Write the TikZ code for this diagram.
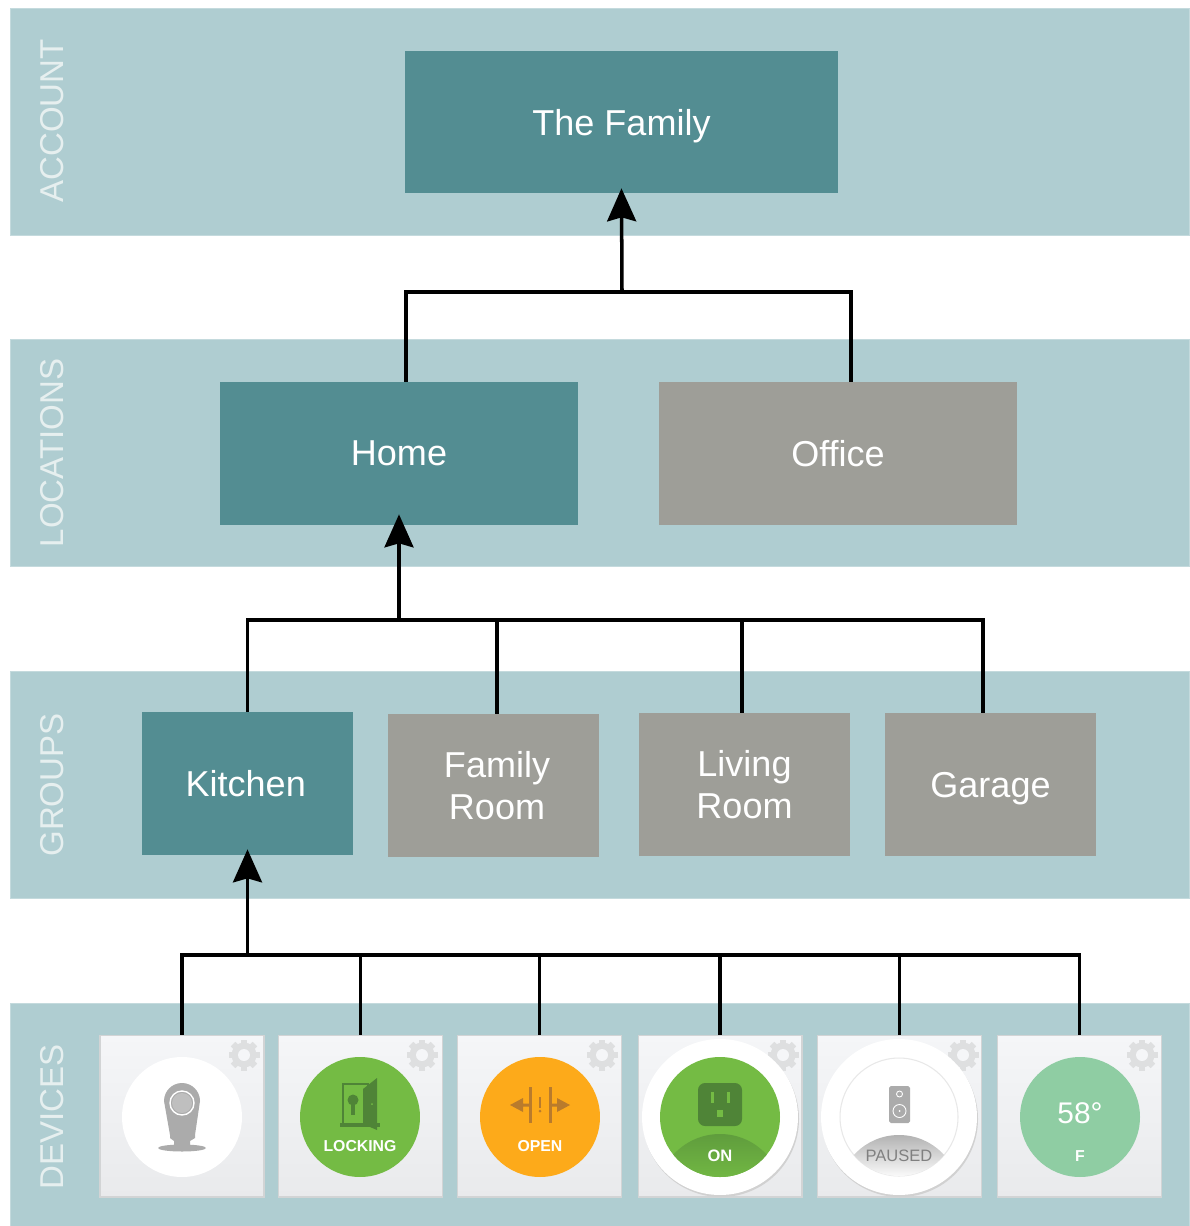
\documentclass[tikz,border=0pt]{standalone}
\usepackage{fontspec}
\setmainfont{Liberation Sans}
\usetikzlibrary{arrows.meta}

\definecolor{bandblue}{HTML}{AFCDD1}
\definecolor{bandedge}{HTML}{C4DADD}
\definecolor{tealbox}{HTML}{538D92}
\definecolor{greybox}{HTML}{9E9E98}
\definecolor{labelgrey}{HTML}{E6EFEF}
\definecolor{gearcol}{HTML}{DEDFE0}
\definecolor{lockgreen}{HTML}{74BB44}
\definecolor{darkgreen}{HTML}{4F8437}
\definecolor{openorange}{HTML}{FDAA1A}
\definecolor{darkorange}{HTML}{B97B2C}
\definecolor{tempgreen}{HTML}{8FCDA3}
\definecolor{icongrey}{HTML}{ABABAB}
\definecolor{cardtop}{HTML}{F5F6F8}
\definecolor{cardbottom}{HTML}{E9EAEC}
\definecolor{cardedge}{HTML}{D2D4D5}

\tikzset{
  band/.style={rectangle, fill=bandblue, draw=bandedge, line width=0.4pt, minimum width=23.58cm, inner sep=0pt},
  bandlabel/.style={text=labelgrey, rotate=90, font=\fontsize{18.8}{20}\selectfont, inner sep=0pt},
  box/.style={rectangle, text=white, inner sep=0pt, align=center, text depth=0pt, font=\fontsize{20.5}{23.5}\selectfont},
  tealnode/.style={box, fill=tealbox},
  greynode/.style={box, fill=greybox},
  card/.style={rectangle, top color=cardtop, bottom color=cardbottom, draw=cardedge, line width=0.6pt, minimum width=3.28cm, minimum height=3.24cm, inner sep=0pt},
  dial/.style={circle, minimum size=2.4cm, inner sep=0pt},
  ring/.style={circle, fill=white, minimum size=3.12cm, inner sep=0pt},
  devtext/.style={text=white, inner sep=0pt, font=\fontsize{9}{10}\selectfont\bfseries},
  wire/.style={line width=2pt, black},
  uparrow/.style={wire, -{Stealth[length=0.66cm, width=0.58cm, inset=0.08cm]}},
  gear/.pic={
    \fill[gearcol] (0,0) circle (12.5);
    \foreach \a in {0,45,...,315}
      \fill[gearcol, rotate=\a] (-3.2,-15.5) rectangle (3.2,0);
    \fill[cardtop] (0,0) circle (6);
  }
}

\begin{document}
\begin{tikzpicture}[x=0.02cm, y=-0.02cm]
    \useasboundingbox (0,0) rectangle (1189,1226);

    % bands
    \node[band, minimum height=4.54cm] (accountband) at (599.5,121.5) {};
    \node[band, minimum height=4.54cm] (locationsband) at (599.5,453) {};
    \node[band, minimum height=4.54cm] (groupsband) at (599.5,784.5) {};
    \node[band, minimum height=4.46cm] (devicesband) at (599.5,1114.5) {};

    \node[bandlabel] (accountlabel) at (52,121) {ACCOUNT};
    \node[bandlabel] (locationslabel) at (52,453) {LOCATIONS};
    \node[bandlabel] (groupslabel) at (52,785) {GROUPS};
    \node[bandlabel] (deviceslabel) at (52,1117) {DEVICES};

    % account and locations
    \node[tealnode, minimum width=8.66cm, minimum height=2.86cm] (family) at (621.5,122) {The Family};
    \node[tealnode, minimum width=7.18cm, minimum height=2.86cm, text depth=-1pt] (home) at (399,453.5) {Home};
    \node[greynode, minimum width=7.18cm, minimum height=2.86cm, text depth=-1pt] (office) at (838,453.5) {Office};

    % groups
    \node[tealnode, minimum width=4.22cm, minimum height=2.86cm, text depth=-3pt] (kitchen) at (247.5,783.5) {\hspace*{-2pt}Kitchen};
    \node[greynode, minimum width=4.22cm, minimum height=2.86cm, text depth=-2pt] (familyroom) at (493.5,785.5) {\hspace*{4pt}Family\\\hspace*{4pt}Room};
    \node[greynode, minimum width=4.22cm, minimum height=2.86cm, text depth=-2pt] (livingroom) at (744.5,784.5) {Living\\Room};
    \node[greynode, minimum width=4.22cm, minimum height=2.86cm] (garage) at (990.5,784.5) {Garage};

    % device cards
    \node[card] (camera) at (182,1116) {};
    \node[card] (lock) at (360.5,1116) {};
    \node[card] (contact) at (539.5,1116) {};
    \node[card] (plug) at (720,1116) {};
    \node[card] (speaker) at (899.5,1116) {};
    \node[card] (thermostat) at (1079.5,1116) {};

    \foreach \x in {244,422,602,783,963,1142}
      \pic at (\x,1055) {gear};

    % connectors
    \coordinate (accountbus) at (622,292);
    \coordinate (locationsbus) at (399,620);
    \coordinate (groupsbus) at (247.5,955);

    \draw[uparrow, shorten >=-0.11cm] (accountbus) -- (family.south);
    \draw[wire] ([xshift=0.14cm]home.north) |- (accountbus);
    \draw[wire] ([xshift=0.26cm]office.north) |- (accountbus);

    \draw[uparrow, shorten >=-0.22cm] (locationsbus) -- (home.south);
    \draw[wire] (kitchen.north) |- (locationsbus);
    \draw[wire] ([xshift=0.07cm]familyroom.north) |- (locationsbus);
    \draw[wire] ([xshift=-0.05cm]livingroom.north) |- (locationsbus);
    \draw[wire] ([xshift=-0.15cm]garage.north) |- (locationsbus);

    \draw[uparrow, shorten >=-0.12cm] (groupsbus) -- (kitchen.south);
    \foreach \dev in {camera,lock,contact,plug,speaker,thermostat}
      \draw[wire] (\dev.north) |- (groupsbus);

    % camera
    \node[dial, fill=white] (cameradial) at (182,1117) {};
    \fill[icongrey] (164,1101) arc (180:360:18) -- (195,1135) -- (195,1138) -- (190,1141) -- (190,1146) -- (174,1146) -- (174,1141) -- (170,1138) -- (170,1135) -- cycle;
    \fill[icongrey] (182,1148) ellipse (24 and 3.5);
    \draw[white, line width=0.8pt] (182,1103) circle (12);
    \fill[black!25] (182,1103) circle (10);

    % lock
    \node[dial, fill=lockgreen] (lockdial) at (360,1117) {};
    \draw[darkgreen, line width=0.9pt] (343,1084) rectangle (368,1124);
    \fill[darkgreen] (363,1089) -- (377,1078) -- (377,1130) -- (363,1124) -- cycle;
    \fill[darkgreen] (340,1123) rectangle (380,1127);
    \fill[darkgreen] (353,1100) circle (5.5);
    \fill[darkgreen] (351,1100) rectangle (355,1115);
    \fill[lockgreen] (372,1104) circle (1);
    \node[devtext] (locktext) at (360,1146) {LOCKING};

    % contact sensor
    \node[dial, fill=openorange] (contactdial) at (540,1117) {};
    \fill[darkorange] (528.5,1087) rectangle (531.5,1123);
    \fill[darkorange] (548.5,1087) rectangle (551.5,1123);
    \fill[darkorange] (510,1105) -- (523,1098) -- (523,1103.5) -- (529,1103.5) -- (529,1106.5) -- (523,1106.5) -- (523,1112) -- cycle;
    \fill[darkorange] (570,1105) -- (557,1098) -- (557,1103.5) -- (551,1103.5) -- (551,1106.5) -- (557,1106.5) -- (557,1112) -- cycle;
    \fill[darkorange] (539,1097) rectangle (541,1108);
    \fill[darkorange] (540,1111) circle (1.5);
    \node[devtext] (contacttext) at (540,1146) {OPEN};

    % plug
    \fill[black!18] (721,1119) circle (78);
    \node[ring] (plugring) at (720,1117) {};
    \node[dial, fill=lockgreen] (plugdial) at (720,1117) {};
    \begin{scope}
      \clip (720,1117) circle (60);
      \clip (720,1197) circle (63);
      \shade[top color=darkgreen!55!lockgreen, bottom color=lockgreen!92!darkgreen] (650,1134) rectangle (790,1177);
    \end{scope}
    \fill[darkgreen, rounded corners=4pt] (698,1083) rectangle (742,1126);
    \fill[lockgreen] (710.5,1092) rectangle (713.5,1103);
    \fill[lockgreen] (727,1092) rectangle (730,1103);
    \fill[lockgreen] (717,1110) rectangle (723,1117);
    \node[devtext, font=\fontsize{9.4}{10}\selectfont\bfseries] (plugtext) at (720,1156) {ON};

    % speaker
    \fill[black!18] (900,1119) circle (78);
    \node[ring] (speakerring) at (899,1117) {};
    \node[dial, fill=white, draw=black!9, line width=0.6pt, minimum size=2.36cm] (speakerdial) at (899,1117) {};
    \begin{scope}
      \clip (899,1117) circle (59);
      \clip (899,1196) circle (61);
      \shade[top color=black!30, bottom color=black!2] (830,1135) rectangle (970,1176);
    \end{scope}
    \fill[icongrey, rounded corners=1pt] (889,1086) rectangle (910,1123);
    \draw[white, line width=0.5pt] (899.5,1094) circle (3);
    \draw[white, line width=0.5pt] (899.5,1111) circle (6.5);
    \fill[white] (899.5,1111) circle (1);
    \node[devtext, text=black!50, font=\fontsize{9.4}{10}\selectfont] (speakertext) at (899,1156) {PAUSED};

    % thermostat
    \node[dial, fill=tempgreen] (thermostatdial) at (1080,1117) {};
    \node[devtext, font=\fontsize{17}{18}\selectfont] (temptext) at (1080,1113) {58°};
    \node[devtext] (unittext) at (1080,1156) {F};
\end{tikzpicture}
\end{document}
